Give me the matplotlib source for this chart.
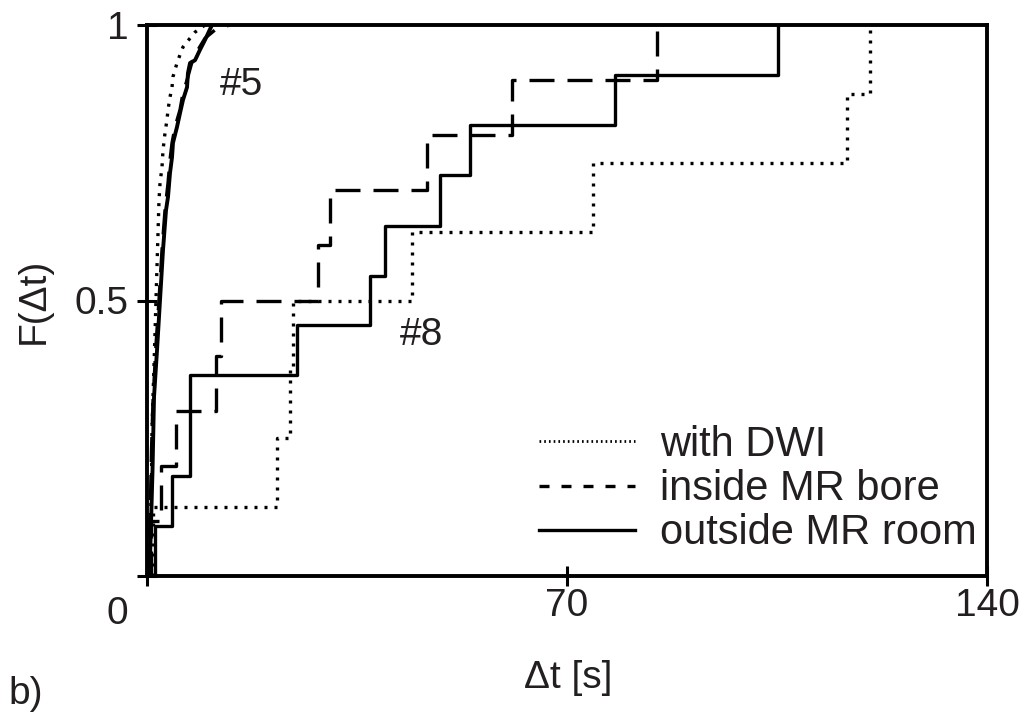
import numpy as np
import matplotlib
matplotlib.use("Agg")
import matplotlib.pyplot as plt
from matplotlib.lines import Line2D
from matplotlib.transforms import ScaledTranslation

# ---------------- data ----------------
# Group "#8": sorted delta-t samples [s] and cumulative fraction F
dwi8_t = [1.0, 21.7, 23.8, 24.3, 44.2, 74.3, 116.7, 120.5]
dwi8_F = [0.125, 0.25, 0.375, 0.5, 0.625, 0.75, 0.875, 1.0]

bore8_t = [0.7, 2.4, 4.8, 11.5, 12.3, 28.5, 30.5, 46.7, 60.8, 85.0]
bore8_F = [0.1, 0.2, 0.3, 0.4, 0.5, 0.6, 0.7, 0.8, 0.9, 1.0]

room8_t = [1.3, 4.2, 7.2, 7.2, 25.0, 37.2, 39.7, 48.8, 53.8, 78.0, 105.2]
room8_F = [0.091, 0.182, 0.273, 0.364, 0.455, 0.545, 0.636, 0.727, 0.818, 0.909, 1.0]

# Group "#5": curves (delta-t [s], F)
dwi5_t = [0.33, 0.42, 0.58, 0.75, 0.83, 1.0, 1.25, 1.5, 1.75, 2.0, 2.17, 2.5, 2.67,
          3.0, 3.33, 3.5, 3.83, 4.17, 4.33, 5.0, 5.5, 6.0, 7.17, 8.0, 9.67]
dwi5_F = [0.0, 0.03, 0.10, 0.174, 0.265, 0.325, 0.41, 0.501, 0.592, 0.682, 0.713,
          0.742, 0.773, 0.804, 0.828, 0.846, 0.869, 0.887, 0.906, 0.931, 0.946,
          0.960, 0.976, 0.987, 1.0]

bore5_t = [0.25, 0.42, 0.58, 0.75, 1.0, 1.5, 2.0, 2.5, 3.0, 3.5, 3.83, 4.17, 4.67,
           5.5, 6.0, 6.67, 7.5, 8.5, 9.67, 11.33, 12.5, 13.83]
bore5_F = [0.0, 0.056, 0.138, 0.229, 0.319, 0.42, 0.501, 0.592, 0.664, 0.713, 0.755,
           0.786, 0.815, 0.846, 0.877, 0.900, 0.933, 0.955, 0.976, 0.991, 0.996, 1.0]

room5_t = [0.33, 0.5, 0.67, 0.92, 1.17, 1.67, 2.17, 2.67, 3.17, 3.5, 3.83, 4.17, 4.33,
           5.0, 5.5, 6.0, 6.67, 6.83, 7.17, 8.0, 8.83, 9.67, 10.83]
room5_F = [0.0, 0.029, 0.096, 0.192, 0.325, 0.41, 0.501, 0.592, 0.664, 0.688, 0.731,
           0.760, 0.786, 0.815, 0.840, 0.864, 0.887, 0.913, 0.931, 0.936, 0.955,
           0.973, 1.0]

x_ticks = [0, 70, 140]
x_ticklabels = ["", "70", "140"]
y_ticks = [0, 0.5, 1]
y_ticklabels = ["0", "0.5", "1"]
legend_labels = ["with DWI", "inside MR bore", "outside MR room"]

# ---------------- style ----------------
plt.rcParams['font.family'] = ['Liberation Sans', 'DejaVu Sans']
TXT = '#231f20'
FS = 28
FS_LEG = 30

fig = plt.figure(figsize=(10.24, 7.19), dpi=100)
ax = fig.add_axes([147 / 1024, 1 - 576 / 719, 840 / 1024, 551 / 719])

sty_dot = dict(color='black', lw=2.4, dashes=(0.9, 2.1))
sty_dash = dict(color='black', lw=2.4, dashes=(7.5, 3.9))
sty_solid = dict(color='black', lw=2.4)


def step(t, F):
    t = np.asarray(t, float)
    F = np.asarray(F, float)
    return np.r_[t[0], t], np.r_[0.0, F]


# #8 step curves
ax.plot(*step(dwi8_t, dwi8_F), drawstyle='steps-post', **sty_dot)
ax.plot(*step(bore8_t, bore8_F), drawstyle='steps-post', **sty_dash)
ax.plot(*step(room8_t, room8_F), drawstyle='steps-post', **sty_solid)

# #5 steep curves
ax.plot(dwi5_t, dwi5_F, **sty_dot)
ax.plot(bore5_t, bore5_F, **sty_dash)
ax.plot(room5_t, room5_F, color='black', lw=2.8)

ax.set_xlim(0, 140)
ax.set_ylim(0, 1)
ax.set_xticks(x_ticks)
ax.set_xticklabels(x_ticklabels)
ax.set_yticks(y_ticks)
ax.set_yticklabels(y_ticklabels)
ax.tick_params(axis='both', direction='inout', length=15, width=2.2,
               colors='black', labelcolor=TXT, labelsize=FS)
ax.tick_params(axis='x', pad=0.8)
ax.tick_params(axis='y', pad=6.0)
for s in ax.spines.values():
    s.set_linewidth(2.8)

# shift the "0" label below the corner as in the reference
off = ScaledTranslation(0, -0.34, fig.dpi_scale_trans)
lab0 = ax.get_yticklabels()[0]
lab0.set_transform(lab0.get_transform() + off)

ax.set_xlabel('Δt [s]', fontsize=FS, color=TXT)
ax.xaxis.set_label_coords(0.501, -0.152)
ax.set_ylabel('F(Δt)', fontsize=FS, color=TXT)
ax.yaxis.set_label_coords(-0.113, 0.5)

ax.text(15.8, 0.873, '#5', fontsize=FS, color=TXT, ha='center', va='baseline')
ax.text(45.8, 0.419, '#8', fontsize=FS, color=TXT, ha='center', va='baseline')

fig.text(8 / 1024, 1 - 704 / 719, 'b)', fontsize=FS, color=TXT,
         ha='left', va='baseline')

handles = [Line2D([], [], color='black', lw=2.0, dashes=(0.6, 1.1)),
           Line2D([], [], color='black', lw=2.4, dashes=(3.0, 3.6)),
           Line2D([], [], color='black', lw=2.4)]
ax.legend(handles, legend_labels, loc='lower right', bbox_to_anchor=(0.988, 0.041),
          frameon=False, fontsize=FS_LEG, labelcolor=TXT, handlelength=2.3,
          handletextpad=0.6, labelspacing=0.1, borderpad=0, borderaxespad=0)

fig.savefig('out.png', dpi=100)
